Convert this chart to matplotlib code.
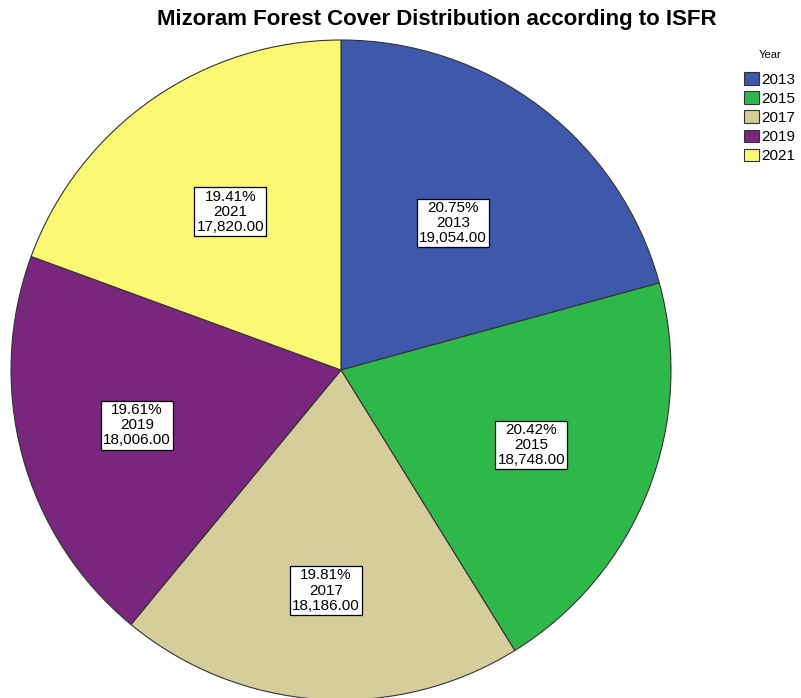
import numpy as np
import matplotlib.pyplot as plt
from matplotlib.patches import Patch

plt.rcParams['font.family'] = ['Liberation Sans', 'DejaVu Sans']

years = ['2013', '2015', '2017', '2019', '2021']
cover = [19054, 18748, 18186, 18006, 17820]
colors = ['#3e58ac', '#2eb84a', '#d5ce9b', '#79267d', '#fbf873']

# how far out each label box sits (fraction of the radius)
label_r = [0.56, 0.62, 0.67, 0.64, 0.585]

total = sum(cover)

fig = plt.figure(figsize=(8.01, 6.98), dpi=100)
ax = fig.add_axes([11 / 801, -2 / 698, 660 / 801, 660 / 698])

wedges, _ = ax.pie(cover, colors=colors, startangle=90, counterclock=False,
                   radius=1.0, wedgeprops=dict(edgecolor='#333333', linewidth=0.8))
ax.set_aspect('equal')
ax.set_xlim(-1, 1)
ax.set_ylim(-1, 1)

# value labels inside the slices
for w, yr, v, r in zip(wedges, years, cover, label_r):
    ang = np.deg2rad((w.theta1 + w.theta2) / 2)
    txt = f"{v / total * 100:.2f}%\n{yr}\n{v:,.2f}"
    ax.text(r * np.cos(ang), r * np.sin(ang), txt, ha='center', va='center',
            fontsize=11, linespacing=1.1,
            bbox=dict(facecolor='white', edgecolor='black', linewidth=0.9, pad=1.5))

fig.text(437 / 801, 1 - 20 / 698, 'Mizoram Forest Cover Distribution according to ISFR',
         ha='center', va='center', fontsize=16, fontweight='bold')

# legend
fig.text(770 / 801, 1 - 55 / 698, 'Year', ha='center', va='center', fontsize=8)
handles = [Patch(facecolor=c, edgecolor='#333333', linewidth=0.8) for c in colors]
leg = fig.legend(handles, years, loc='upper left',
                 bbox_to_anchor=(744 / 801, 1 - 72 / 698), frameon=False,
                 fontsize=11, handlelength=1.0, handleheight=0.9,
                 handletextpad=0.1, labelspacing=0.3, borderpad=0.0, borderaxespad=0)

fig.savefig('out.png', dpi=100)
